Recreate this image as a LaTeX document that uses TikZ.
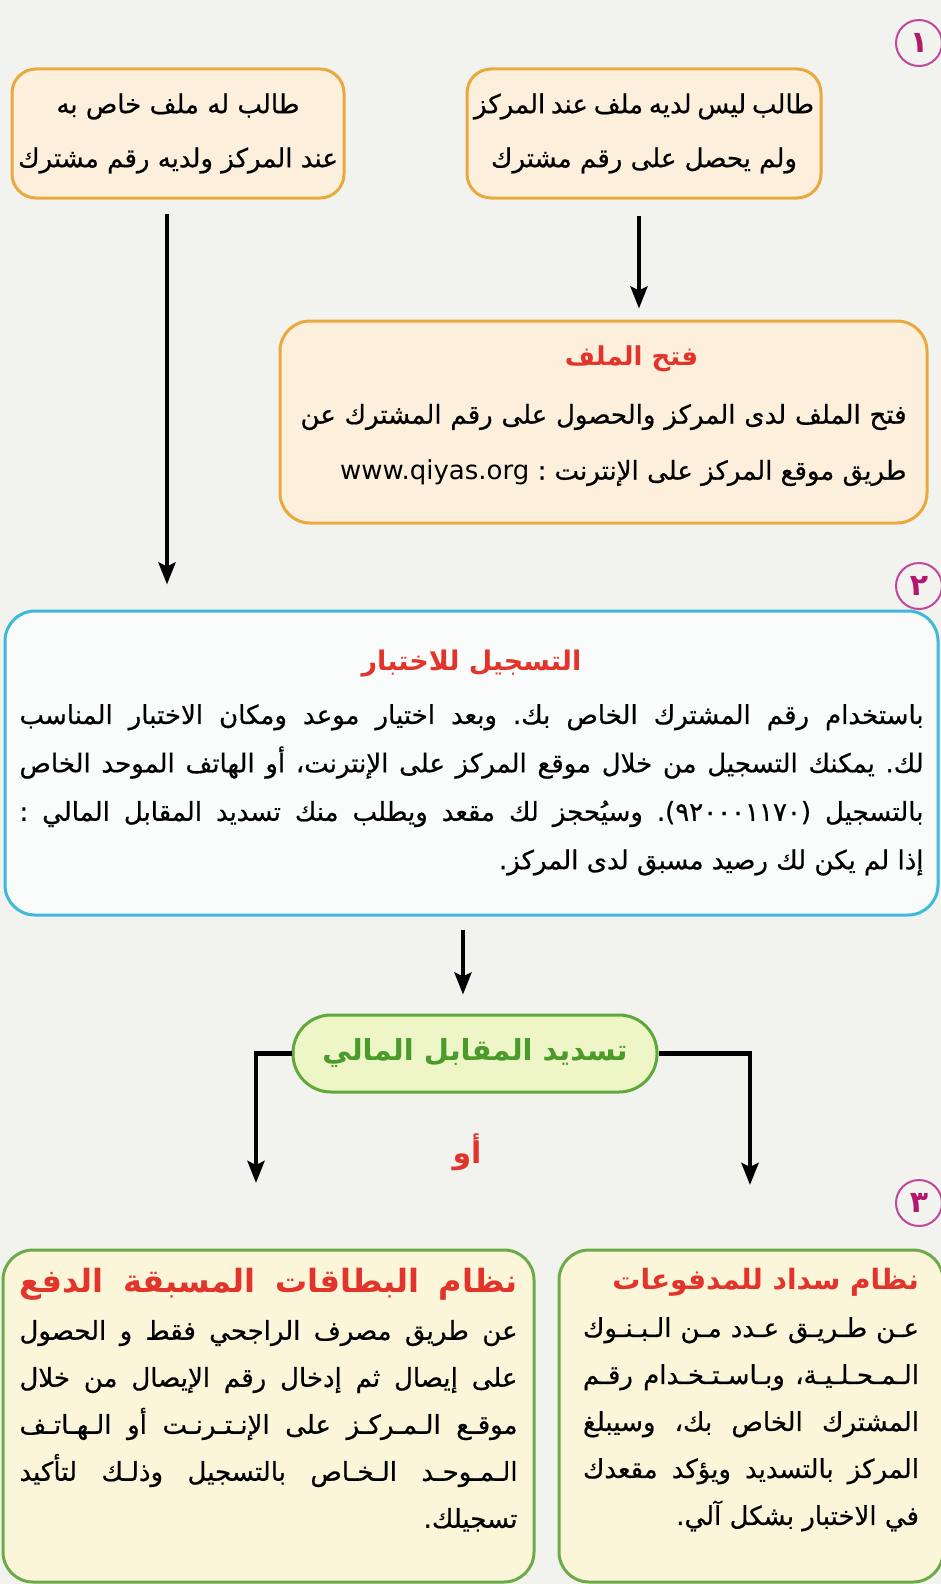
\documentclass[tikz,border=0pt]{standalone}
\usepackage{fontspec}
\usepackage{tikz}
\usetikzlibrary{calc,arrows.meta}
\TeXXeTstate=1
\frenchspacing
\newfontfamily\arabicfont[Script=Arabic]{DejaVu Sans}
\newfontface\arabicbody[Script=Arabic,FakeBold=0.6]{DejaVu Sans}
\newfontfamily\latinfont{DejaVu Sans}
\definecolor{bg}{HTML}{F2F2EE}
\definecolor{gold}{HTML}{E9A93F}
\definecolor{cream}{HTML}{FCF0DC}
\definecolor{sky}{HTML}{3DB9D9}
\definecolor{paper}{HTML}{FAFCFB}
\definecolor{leaf}{HTML}{5FA93B}
\definecolor{lime}{HTML}{EEF5C6}
\definecolor{moss}{HTML}{6CAB48}
\definecolor{straw}{HTML}{FBF6DA}
\definecolor{tred}{HTML}{E3342B}
\definecolor{plum}{HTML}{C2479C}
\definecolor{grape}{HTML}{B3186F}
\definecolor{grass}{HTML}{4B9A2C}
\newcommand\arbox[3]{\vbox{\hsize=#1\relax\baselineskip=#2\relax\lineskiplimit=-50pt #3}}
\newcommand\lineJ[2][]{\hbox to\hsize{#1\beginR #2\endR}}
\newcommand\lineC[2][]{\hbox to\hsize{#1\hfil\beginR #2\endR\hfil}}
\newcommand\lineR[2][]{\hbox to\hsize{#1\hfil\beginR #2\endR}}
\begin{document}
\begin{tikzpicture}[x=0.5pt,y=-0.5pt,>={Stealth[length=11pt,width=8.5pt,inset=2pt]},
    box/.style={draw=gold,fill=cream,line width=1.5pt,rounded corners=12pt,inner sep=0pt,
      font=\arabicbody\fontsize{13}{26}\selectfont},
    regbox/.style={box,draw=sky,fill=paper,rounded corners=15pt},
    paybox/.style={box,draw=leaf,fill=lime,rounded corners=19pt,text=grass,
      font=\arabicfont\bfseries\fontsize{14.5}{18}\selectfont},
    optbox/.style={box,draw=moss,fill=straw,rounded corners=15pt},
    num/.style={circle,draw=plum,line width=1pt,minimum size=23pt,inner sep=0pt,text=grape,
      font=\arabicfont\bfseries\fontsize{15}{15}\selectfont},
    link/.style={->,line width=2.2pt}]
  \useasboundingbox (0,0) rectangle (941,1584);
  \fill[bg] (0,0) rectangle (941,1584);
  \node[num] (N1) at (919,43) {١};
  \node[num] (N2) at (919,586) {٢};
  \node[num] (N3) at (919,1203) {٣};
  \node[box,minimum width=166pt,minimum height=64.5pt] (A) at (178,133.5)
    {\arbox{160pt}{27pt}{\lineC{طالب له ملف خاص به}\lineC{عند المركز ولديه رقم مشترك}}};
  \node[box,minimum width=177pt,minimum height=64.5pt] (B) at (644,133.5)
    {\arbox{170pt}{27pt}{\lineC{طالب ليس لديه ملف عند المركز}\lineC{ولم يحصل على رقم مشترك}}};
  \node[box,minimum width=323.5pt,minimum height=101pt,rounded corners=15pt] (C) at (603.5,422)
    {\arbox{303pt}{28pt}{\lineC[\color{tred}\arabicfont\bfseries\fontsize{13}{15}\selectfont\hskip28pt]{فتح الملف}\vskip1pt
      \lineJ{فتح الملف لدى المركز والحصول على رقم المشترك عن}
      \lineR{طريق موقع المركز على الإنترنت : {\latinfont\beginL www.qiyas.org\endL}}\vskip6pt}};
  \node[regbox,minimum width=466.5pt,minimum height=152pt] (D) at (471.5,763)
    {\arbox{452pt}{24.2pt}{\lineC[\color{tred}\arabicfont\bfseries\fontsize{13.5}{16}\selectfont]{التسجيل للاختبار}\vskip2.3pt
      \lineJ{باستخدام رقم المشترك الخاص بك. وبعد اختيار موعد ومكان الاختبار المناسب}
      \lineJ{لك. يمكنك التسجيل من خلال موقع المركز على الإنترنت، أو الهاتف الموحد الخاص}
      \lineJ{بالتسجيل \beginL(٩٢٠٠٠١١٧٠)\endL. وسيُحجز لك مقعد ويطلب منك تسديد المقابل المالي :}
      \lineR{إذا لم يكن لك رصيد مسبق لدى المركز.}}};
  \node[paybox,minimum width=182pt,minimum height=38.5pt] (E) at (475,1053.5)
    {\beginR تسديد المقابل المالي\endR};
  \node[text=tred,font=\arabicfont\bfseries\fontsize{15}{15}\selectfont] (H) at (467,1152) {أو};
  \node[optbox,minimum width=265.5pt,minimum height=166pt] (F) at (268.5,1416)
    {\arbox{249pt}{23.5pt}{\lineJ[\color{tred}\arabicfont\bfseries\fontsize{16}{16}\selectfont]{نظام البطاقات المسبقة الدفع}
      \lineJ{عن طريق مصرف الراجحي فقط و الحصول}
      \lineJ{على إيصال ثم إدخال رقم الإيصال من خلال}
      \lineJ{موقـع الـمـركـز على الإنـتـرنـت أو الـهـاتـف}
      \lineJ{الـمـوحـد الـخـاص بالتسجيل وذلـك لتأكيد}
      \lineR{تسجيلك.}\vskip16pt}};
  \node[optbox,minimum width=192pt,minimum height=166pt] (G) at (751,1416)
    {\arbox{168pt}{23.5pt}{\lineR[\color{tred}\arabicfont\bfseries\fontsize{14}{16}\selectfont]{نظام سداد للمدفوعات}
      \lineJ{عـن طـريـق عـدد مـن الـبـنـوك}
      \lineJ{الـمـحـلـيـة، وبـاسـتـخـدام رقـم}
      \lineJ{المشترك الخاص بك، وسيبلغ}
      \lineJ{المركز بالتسديد ويؤكد مقعدك}
      \lineR{في الاختبار بشكل آلي.}\vskip16pt}};
  \coordinate (FL) at (256,1183);
  \coordinate (GR) at (750,1185);
  \draw[link] let \p1 = (B.south), \p2 = (C.north) in (\x1-2.5pt,\y1-8pt) -- (\x1-2.5pt,\y2+5.5pt);
  \draw[link] let \p1 = (A.south), \p2 = (D.north) in (\x1-5.5pt,\y1-7pt) -- (\x1-5.5pt,\y2+12.5pt);
  \draw[link] let \p1 = (D.south), \p2 = (E.north) in (\x1-4.25pt,\y1-6.5pt) -- (\x1-4.25pt,\y2+9.5pt);
  \draw[link] (E.west) -| (FL);
  \draw[link] (E.east) -| (GR);
\end{tikzpicture}
\end{document}
